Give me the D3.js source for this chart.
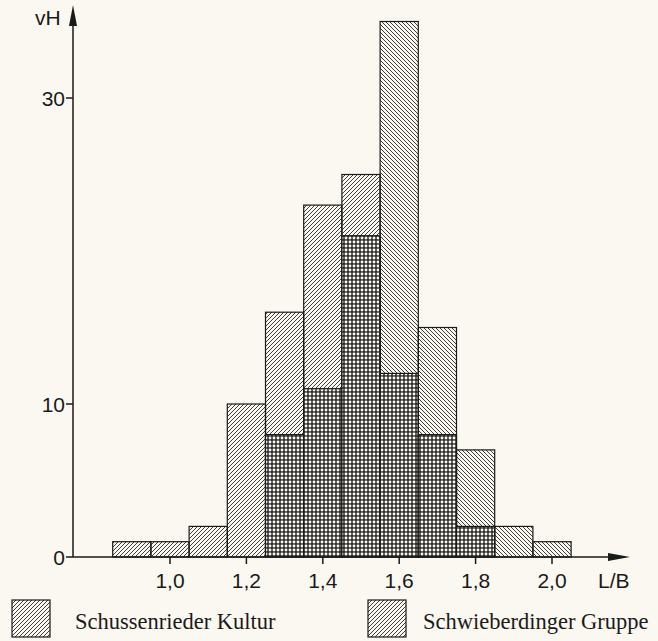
<!DOCTYPE html>
<html>
<head>
<meta charset="utf-8">
<script src="https://cdn.jsdelivr.net/npm/d3@7"></script>
<style>
  body { margin: 0; background: #faf8f1; }
  svg { display: block; }
</style>
</head>
<body>
<svg id="chart"></svg>
<script>
// bin centres (L/B ratio) and counts in vH per group
var bins = [0.9, 1.0, 1.1, 1.2, 1.3, 1.4, 1.5, 1.6, 1.7, 1.8, 1.9, 2.0];
var schussenried = [1, 1, 2, 10, 16, 23, 25, 12, 8, 2, 0, 0];
var schwieberdingen = [0, 0, 0, 0, 8, 11, 21, 35, 15, 7, 2, 1];
var xTicks = [1.0, 1.2, 1.4, 1.6, 1.8, 2.0];
var yTicks = [0, 10, 30];
var legendNames = ["Schussenrieder Kultur", "Schwieberdinger Gruppe"];

var width = 658, height = 641;
var paper = "#faf8f1", ink = "#1a1a1a";
var binW = 0.1;

var svg = d3.select("#chart").attr("width", width).attr("height", height);

var x = d3.scaleLinear().domain([1.0, 2.0]).range([170, 552]);
var y = d3.scaleLinear().domain([0, 30]).range([557, 98]);
var x0 = 73;

// hatch patterns
var defs = svg.append("defs");
defs.append("pattern").attr("id", "fwd")
  .attr("patternUnits", "userSpaceOnUse").attr("width", 4).attr("height", 4)
  .append("path").attr("d", "M-1,1 l2,-2 M0,4 l4,-4 M3,5 l2,-2")
  .attr("stroke", "#2a2a2a").attr("stroke-width", 0.9);
defs.append("pattern").attr("id", "back")
  .attr("patternUnits", "userSpaceOnUse").attr("width", 4).attr("height", 4)
  .append("path").attr("d", "M-1,3 l2,2 M0,0 l4,4 M3,-1 l2,2")
  .attr("stroke", "#2a2a2a").attr("stroke-width", 0.9);
var cross = defs.append("pattern").attr("id", "cross")
  .attr("patternUnits", "userSpaceOnUse").attr("width", 4).attr("height", 4);
cross.append("rect").attr("width", 4).attr("height", 4).attr("fill", "#2e2e2e");
cross.append("circle").attr("cx", 2).attr("cy", 2).attr("r", 1.45).attr("fill", paper);

// bars: taller group first, overlap drawn cross-hatched on top
var data = bins.map(function (b, i) {
  return { bin: b, a: schussenried[i], b: schwieberdingen[i] };
});
var g = svg.append("g");
data.forEach(function (d) {
  var left = x(d.bin - binW / 2), w = x(d.bin + binW / 2) - left;
  var hi = Math.max(d.a, d.b), lo = Math.min(d.a, d.b);
  if (hi === 0) return;
  g.append("rect")
    .attr("x", left).attr("width", w)
    .attr("y", y(hi)).attr("height", y(0) - y(hi))
    .attr("fill", d.a >= d.b ? "url(#fwd)" : "url(#back)")
    .attr("stroke", ink).attr("stroke-width", 1.2);
  if (lo > 0) {
    g.append("rect")
      .attr("x", left).attr("width", w)
      .attr("y", y(lo)).attr("height", y(0) - y(lo))
      .attr("fill", "url(#cross)")
      .attr("stroke", ink).attr("stroke-width", 1.2);
  }
});

// axes
var axes = svg.append("g").attr("stroke", ink).attr("stroke-width", 1.5);
axes.append("line").attr("x1", x0).attr("x2", x0).attr("y1", y(0)).attr("y2", 14);
axes.append("line").attr("x1", x0).attr("x2", 618).attr("y1", y(0)).attr("y2", y(0));
svg.append("path").attr("d", "M" + x0 + ",5 L" + (x0 + 4) + ",26 L" + (x0 - 4) + ",26 Z").attr("fill", ink);
svg.append("path").attr("d", "M630," + y(0) + " L608," + (y(0) - 4) + " L608," + (y(0) + 4) + " Z").attr("fill", ink);

var tickFont = "'Liberation Sans', Arial, sans-serif";
axes.selectAll(".xt").data(xTicks).enter().append("line")
  .attr("x1", function (d) { return x(d); }).attr("x2", function (d) { return x(d); })
  .attr("y1", y(0)).attr("y2", y(0) + 7);
svg.selectAll(".xl").data(xTicks).enter().append("text")
  .attr("x", function (d) { return x(d); }).attr("y", 588)
  .attr("text-anchor", "middle")
  .style("font-family", tickFont).style("font-size", "21px").attr("fill", ink)
  .text(function (d) { return d3.format(".1f")(d).replace(".", ","); });

axes.selectAll(".yt").data(yTicks).enter().append("line")
  .attr("x1", x0 - 7).attr("x2", x0)
  .attr("y1", function (d) { return y(d); }).attr("y2", function (d) { return y(d); });
svg.selectAll(".yl").data(yTicks).enter().append("text")
  .attr("x", x0 - 8).attr("y", function (d) { return y(d) + 7.5; })
  .attr("text-anchor", "end")
  .style("font-family", tickFont).style("font-size", "21px").attr("fill", ink)
  .text(function (d) { return d; });

svg.append("text").attr("x", 35).attr("y", 25)
  .style("font-family", tickFont).style("font-size", "21px").attr("fill", ink).text("vH");
svg.append("text").attr("x", 598).attr("y", 588)
  .style("font-family", tickFont).style("font-size", "21px").attr("fill", ink).text("L/B");

// legend
var legX = [12, 368], legTextX = [75, 423];
legendNames.forEach(function (name, i) {
  svg.append("rect").attr("x", legX[i]).attr("y", 600).attr("width", 38).attr("height", 37)
    .attr("fill", "url(#fwd)").attr("stroke", ink).attr("stroke-width", 1.2);
  svg.append("text").attr("x", legTextX[i]).attr("y", 629)
    .style("font-family", "'Liberation Serif', 'Times New Roman', serif")
    .style("font-size", "22.5px").attr("fill", ink).text(name);
});
</script>
</body>
</html>
